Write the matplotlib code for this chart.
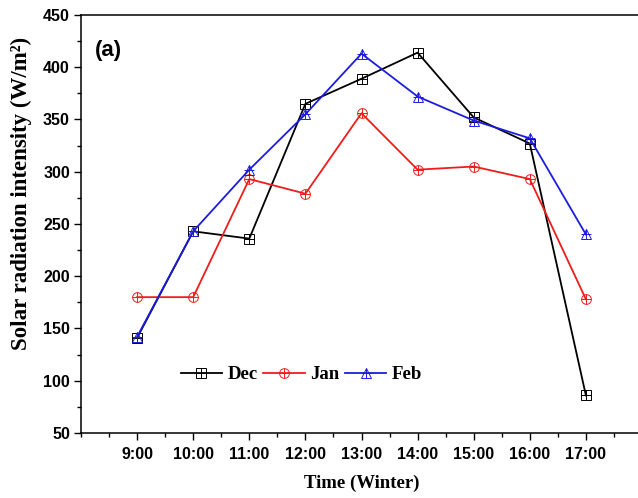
import matplotlib
matplotlib.use("Agg")
import matplotlib.pyplot as plt
from matplotlib.ticker import MultipleLocator
from matplotlib.legend_handler import HandlerTuple

hours = ["9:00", "10:00", "11:00", "12:00", "13:00", "14:00", "15:00", "16:00", "17:00"]
dec = [141, 243, 236, 365, 389, 414, 352, 327, 86]
jan = [180, 180, 293, 279, 356, 302, 305, 293, 178]
feb = [142, 243, 302, 355, 413, 372, 349, 332, 240]

x = list(range(1, len(hours) + 1))

fig = plt.figure(figsize=(6.38, 4.98), dpi=100)
ax = fig.add_axes([81 / 638, 65 / 498, 561 / 638, 418 / 498])

series = [("Dec", dec, "black", "s"), ("Jan", jan, "#ee1c1c", "o"), ("Feb", feb, "#1c1ce0", "^")]
handles = []
for name, vals, col, mk in series:
    l1, = ax.plot(x, vals, color=col, lw=1.3, marker=mk, ms=7,
                  mfc="none", mec=col, mew=0.7)
    l2, = ax.plot(x, vals, ls="none", marker="+", ms=7, mec=col, mew=0.7)
    handles.append((l1, l2))

ax.set_xlim(0, 10)
ax.set_ylim(50, 450)
ax.set_xticks(x)
ax.set_xticklabels(hours)
ax.xaxis.set_minor_locator(MultipleLocator(0.5))
ax.yaxis.set_major_locator(MultipleLocator(50))
ax.yaxis.set_minor_locator(MultipleLocator(25))
ax.tick_params(which="major", direction="out", length=5, width=1)
ax.tick_params(axis="x", which="major", pad=5)
ax.tick_params(axis="y", which="major", pad=3)
ax.tick_params(which="minor", direction="out", length=3, width=1)
for lab in ax.get_xticklabels() + ax.get_yticklabels():
    lab.set_family("Liberation Sans")
    lab.set_fontweight("bold")
    lab.set_fontsize(11.5)
for sp in ax.spines.values():
    sp.set_linewidth(1.1)

ax.set_xlabel("Time (Winter)", family="Liberation Serif", weight="bold", fontsize=13.5, labelpad=9)
ax.set_ylabel("Solar radiation intensity (W/m²)", family="Liberation Serif",
              weight="bold", fontsize=16.5)
ax.yaxis.set_label_coords(-0.087, 0.572)

ax.text(0.025, 0.915, "(a)", transform=ax.transAxes, family="Liberation Sans",
        weight="bold", fontsize=16, va="center", ha="left")

ax.legend(handles, [s[0] for s in series], handler_map={tuple: HandlerTuple(ndivide=1)},
          loc="center left", bbox_to_anchor=(0.178, 0.139), frameon=False, ncol=3,
          borderpad=0, borderaxespad=0, handlelength=2.2, handletextpad=0.3,
          columnspacing=0.3, prop={"family": "Liberation Serif", "weight": "bold", "size": 13.5})

fig.savefig("out.png", dpi=100)
